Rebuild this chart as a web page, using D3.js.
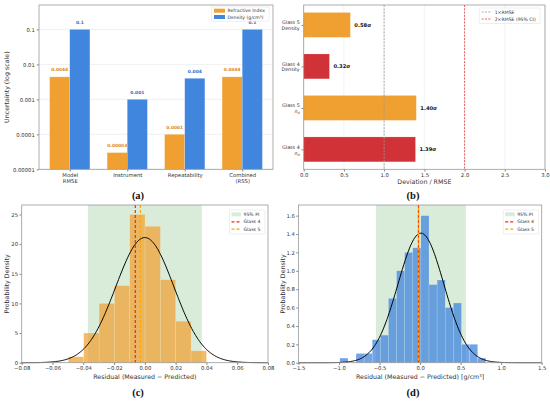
<!DOCTYPE html>
<html>
<head>
<meta charset="utf-8">
<script src="https://cdn.jsdelivr.net/npm/d3@7"></script>
<style>
  body { margin: 0; background: #fff; }
  text { font-family: "DejaVu Sans", sans-serif; }
</style>
</head>
<body>
<svg id="fig" width="550" height="401"></svg>
<script>
// ---- data: panel (a) uncertainty budget
const uncCats = [["Model", "RMSE"], ["Instrument"], ["Repeatability"], ["Combined", "(RSS)"]];
const uncRI = [0.0044, 0.00003, 0.0001, 0.0044];
const uncDen = [0.1, 0.001, 0.004, 0.1];
const uncRILabels = ["0.0044", "0.00003", "0.0001", "0.0044"];
const uncDenLabels = ["0.1", "0.001", "0.004", "0.1"];
const logTicks = [0.00001, 0.0001, 0.001, 0.01, 0.1];
const logTickLabels = ["0.00001", "0.0001", "0.001", "0.01", "0.1"];

// ---- data: panel (b) deviation / RMSE (bottom to top)
const devGlass = ["Glass 4", "Glass 5", "Glass 4", "Glass 5"];
const devProp = ["nd", "nd", "Density", "Density"];
const devVals = [1.39, 1.40, 0.32, 0.58];
const devLabels = ["1.39σ", "1.40σ", "0.32σ", "0.58σ"];
const devTicks = [0, 0.5, 1, 1.5, 2, 2.5, 3];

// ---- data: panel (c) refractive index residuals
const riEdges = [-0.0497, -0.0397, -0.0297, -0.0197, -0.0098, 0.0001, 0.0101, 0.0200, 0.0300, 0.0400];
const riDens = [1, 5, 10, 13, 25, 23, 14, 7, 2];
const riFit = { mu: 0.0, sigma: 0.0189 };
const riPI = [-0.037, 0.037];
const riGlass = [-0.0062, -0.0029];
const riTicks = [-0.08, -0.06, -0.04, -0.02, 0, 0.02, 0.04, 0.06, 0.08];
const riYTicks = [0, 5, 10, 15, 20, 25];

// ---- data: panel (d) density residuals
const denEdges = [-0.99, -0.89, -0.79, -0.69, -0.59, -0.49, -0.39, -0.29, -0.19, -0.09, 0.01, 0.11, 0.21, 0.31, 0.41, 0.51, 0.61, 0.71, 0.81];
const denDens = [0.05, 0, 0.1, 0.1, 0.25, 0.3, 0.7, 1.0, 1.2, 1.25, 1.6, 0.85, 0.9, 0.6, 0.65, 0.2, 0.2, 0.05];
const denFit = { mu: 0.01, sigma: 0.283 };
const denPI = [-0.545, 0.565];
const denGlass = [-0.02, -0.02];
const denTicks = [-1.5, -1.0, -0.5, 0, 0.5, 1.0, 1.5];
const denYTicks = [0, 0.2, 0.4, 0.6, 0.8, 1.0, 1.2, 1.4, 1.6];

const ORANGE = "#f0a030", BLUE = "#4085de", RED = "#d03238";
const svg = d3.select("#fig");

// common axis styling
function styleAxis(sel) {
  sel.select(".domain").remove();
  sel.selectAll(".tick line").attr("stroke", "#333").attr("stroke-width", 0.6);
  sel.selectAll(".tick text").attr("fill", "#333").style("font-size", "5.3px");
}
function frame(g, w, h) {
  g.append("rect").attr("width", w).attr("height", h)
    .attr("fill", "none").attr("stroke", "#999").attr("stroke-width", 0.8);
}
function caption(txt, x, y) {
  svg.append("text").attr("x", x).attr("y", y).attr("text-anchor", "middle")
    .style("font-family", "'Liberation Serif', serif").style("font-weight", "bold")
    .style("font-size", "10.5px").attr("fill", "#111").text(txt);
}
function yLabel(txt, x, yc) {
  svg.append("text").attr("transform", `translate(${x},${yc}) rotate(-90)`)
    .attr("text-anchor", "middle").attr("dy", "0.35em")
    .style("font-size", "6.3px").attr("fill", "#333").text(txt);
}
function xLabel(txt, xc, y) {
  svg.append("text").attr("x", xc).attr("y", y).attr("text-anchor", "middle")
    .attr("dy", "0.35em").style("font-size", "6.3px").attr("fill", "#333").text(txt);
}

// ================= (a) =================
const A = { l: 39, t: 5, w: 234, h: 164.3 };
const ga = svg.append("g").attr("transform", `translate(${A.l},${A.t})`);
const xa = d3.scaleLinear().domain([-0.535, 3.535]).range([0, A.w]);
const ya = d3.scaleLog().domain([1e-5, 0.5]).range([A.h, 0]);
const bw = 0.35;

ga.selectAll(".grid").data(logTicks).enter().append("line")
  .attr("x1", 0).attr("x2", A.w).attr("y1", d => ya(d)).attr("y2", d => ya(d))
  .attr("stroke", "#e6e6e6").attr("stroke-width", 0.6);

ga.selectAll(".ri").data(uncRI).enter().append("rect")
  .attr("x", (d, i) => xa(i - bw)).attr("width", xa(bw) - xa(0))
  .attr("y", d => ya(d)).attr("height", d => A.h - ya(d))
  .attr("fill", ORANGE).attr("stroke", "#fff").attr("stroke-opacity", 0.35).attr("stroke-width", 0.5);
ga.selectAll(".den").data(uncDen).enter().append("rect")
  .attr("x", (d, i) => xa(i)).attr("width", xa(bw) - xa(0))
  .attr("y", d => ya(d)).attr("height", d => A.h - ya(d))
  .attr("fill", BLUE).attr("stroke", "#fff").attr("stroke-opacity", 0.35).attr("stroke-width", 0.5);

ga.selectAll(".rilab").data(uncRI).enter().append("text")
  .attr("x", (d, i) => xa(i - bw / 2)).attr("y", d => ya(d) - 5.5)
  .attr("text-anchor", "middle").style("font-size", "4.4px").style("font-weight", "bold")
  .attr("fill", "#e08a20").text((d, i) => uncRILabels[i]);
ga.selectAll(".denlab").data(uncDen).enter().append("text")
  .attr("x", (d, i) => xa(i + bw / 2)).attr("y", d => ya(d) - 5.5)
  .attr("text-anchor", "middle").style("font-size", "4.4px").style("font-weight", "bold")
  .attr("fill", "#3070c8").text((d, i) => uncDenLabels[i]);

ga.append("g").call(d3.axisLeft(ya).tickValues(logTicks)
  .tickFormat((d, i) => logTickLabels[i]).tickSize(2.2).tickPadding(2)).call(styleAxis);
const axA = ga.append("g").attr("transform", `translate(0,${A.h})`)
  .call(d3.axisBottom(xa).tickValues([0, 1, 2, 3]).tickFormat("").tickSize(2.2)).call(styleAxis);
axA.selectAll(".tick").append("text").attr("fill", "#333").style("font-size", "5.3px")
  .attr("text-anchor", "middle")
  .each(function (d) {
    const t = d3.select(this);
    uncCats[d].forEach((s, k) => t.append("tspan").attr("x", 0).attr("y", 8 + k * 5.6).text(s));
  });
frame(ga, A.w, A.h);

// legend (a)
const la = ga.append("g").attr("transform", "translate(172.5,1.8)");
la.append("rect").attr("width", 57.5).attr("height", 14.5).attr("rx", 1)
  .attr("fill", "#fff").attr("fill-opacity", 0.85).attr("stroke", "#ddd").attr("stroke-width", 0.5);
[["Refractive Index", ORANGE], ["Density (g/cm³)", BLUE]].forEach((e, k) => {
  la.append("rect").attr("x", 2.5).attr("y", 1.9 + k * 6.3).attr("width", 11).attr("height", 4).attr("fill", e[1]);
  la.append("text").attr("x", 16).attr("y", 3.9 + k * 6.3).attr("dy", "0.35em")
    .style("font-size", "4.6px").attr("fill", "#333").text(e[0]);
});
yLabel("Uncertainty (log scale)", 7, A.t + A.h / 2);
caption("(a)", 138, 199);

// ================= (b) =================
const B = { l: 303.7, t: 5, w: 241.3, h: 164.3 };
const gb = svg.append("g").attr("transform", `translate(${B.l},${B.t})`);
const xb = d3.scaleLinear().domain([0, 3]).range([0, B.w]);
const yb = d3.scaleLinear().domain([-0.48, 3.48]).range([B.h, 0]);

gb.selectAll(".grid").data(devTicks).enter().append("line")
  .attr("x1", d => xb(d)).attr("x2", d => xb(d)).attr("y1", 0).attr("y2", B.h)
  .attr("stroke", "#ebebeb").attr("stroke-width", 0.6);

gb.selectAll(".bar").data(devVals).enter().append("rect")
  .attr("x", 0).attr("width", d => xb(d))
  .attr("y", (d, i) => yb(i + 0.3)).attr("height", yb(0) - yb(0.6))
  .attr("fill", (d, i) => devGlass[i] === "Glass 4" ? RED : ORANGE)
  .attr("stroke", "#fff").attr("stroke-opacity", 0.35).attr("stroke-width", 0.5);
gb.selectAll(".blab").data(devVals).enter().append("text")
  .attr("x", d => xb(d + 0.05)).attr("y", (d, i) => yb(i)).attr("dy", "0.35em")
  .style("font-size", "5.2px").style("font-weight", "bold").attr("fill", "#111")
  .text((d, i) => devLabels[i]);

gb.append("line").attr("x1", xb(1)).attr("x2", xb(1)).attr("y1", 0).attr("y2", B.h)
  .attr("stroke", "#999").attr("stroke-width", 0.8).attr("stroke-dasharray", "2,1.3");
gb.append("line").attr("x1", xb(2)).attr("x2", xb(2)).attr("y1", 0).attr("y2", B.h)
  .attr("stroke", "#e8383a").attr("stroke-width", 0.8).attr("stroke-dasharray", "2,1.3");

gb.append("g").attr("transform", `translate(0,${B.h})`)
  .call(d3.axisBottom(xb).tickValues(devTicks).tickFormat(d3.format(".1f")).tickSize(2.2).tickPadding(1.5))
  .call(styleAxis);
const axB = gb.append("g").call(d3.axisLeft(yb).tickValues([0, 1, 2, 3]).tickFormat("").tickSize(2.2))
  .call(styleAxis);
axB.selectAll(".tick").append("text").attr("fill", "#333").style("font-size", "4.8px")
  .attr("text-anchor", "end")
  .each(function (d) {
    const t = d3.select(this);
    t.append("tspan").attr("x", -4).attr("y", -1.2).text(devGlass[d]);
    if (devProp[d] === "nd") {
      const l2 = t.append("tspan").attr("x", -4).attr("y", 4.8);
      l2.append("tspan").style("font-style", "italic").text("n");
      l2.append("tspan").style("font-style", "italic").style("font-size", "3.4px").attr("dy", 1).text("d");
    } else {
      t.append("tspan").attr("x", -4).attr("y", 4.6).text(devProp[d]);
    }
  });
frame(gb, B.w, B.h);

const lb = gb.append("g").attr("transform", "translate(175.5,3)");
lb.append("rect").attr("width", 61).attr("height", 15.5).attr("rx", 1)
  .attr("fill", "#fff").attr("fill-opacity", 0.85).attr("stroke", "#ddd").attr("stroke-width", 0.5);
[["1×RMSE", "#999"], ["2×RMSE (95% CI)", "#e8383a"]].forEach((e, k) => {
  lb.append("line").attr("x1", 2.5).attr("x2", 12.5).attr("y1", 4 + k * 7).attr("y2", 4 + k * 7)
    .attr("stroke", e[1]).attr("stroke-width", 0.8).attr("stroke-dasharray", "2,1.3");
  lb.append("text").attr("x", 15.5).attr("y", 4 + k * 7).attr("dy", "0.35em")
    .style("font-size", "4.6px").attr("fill", "#333").text(e[0]);
});
xLabel("Deviation / RMSE", B.l + B.w / 2, 182);
caption("(b)", 413, 199);

// ================= histogram panels =================
function histPanel(P, edges, dens, fit, pi, glass, xDom, yMax, xTicks, yTicks, xFmt, yFmt, color, op) {
  const g = svg.append("g").attr("transform", `translate(${P.l},${P.t})`);
  const x = d3.scaleLinear().domain(xDom).range([0, P.w]);
  const y = d3.scaleLinear().domain([0, yMax]).range([P.h, 0]);

  g.append("rect").attr("x", x(pi[0])).attr("width", x(pi[1]) - x(pi[0]))
    .attr("y", 0).attr("height", P.h).attr("fill", "#d9ecd9");

  g.selectAll(".hb").data(dens).enter().append("rect")
    .attr("x", (d, i) => x(edges[i])).attr("width", (d, i) => x(edges[i + 1]) - x(edges[i]))
    .attr("y", d => y(d)).attr("height", d => P.h - y(d))
    .attr("fill", color).attr("fill-opacity", op)
    .attr("stroke", "#fff").attr("stroke-opacity", 0.3).attr("stroke-width", 0.5);

  const xs = d3.range(0, 301).map(k => xDom[0] + (xDom[1] - xDom[0]) * k / 300);
  const pdf = v => Math.exp(-0.5 * ((v - fit.mu) / fit.sigma) ** 2) / (fit.sigma * Math.sqrt(2 * Math.PI));
  g.append("path").datum(xs)
    .attr("d", d3.line().x(v => x(v)).y(v => y(pdf(v))))
    .attr("fill", "none").attr("stroke", "#000").attr("stroke-width", 1);

  g.append("line").attr("x1", x(glass[0])).attr("x2", x(glass[0])).attr("y1", 0).attr("y2", P.h)
    .attr("stroke", "#ee2a1c").attr("stroke-width", 1.2).attr("stroke-dasharray", "3,2");
  g.append("line").attr("x1", x(glass[1])).attr("x2", x(glass[1])).attr("y1", 0).attr("y2", P.h)
    .attr("stroke", "#ffa500").attr("stroke-width", 1.2).attr("stroke-dasharray", "3,2")
    .attr("stroke-dashoffset", glass[0] === glass[1] ? 2.5 : 0);

  g.append("g").attr("transform", `translate(0,${P.h})`)
    .call(d3.axisBottom(x).tickValues(xTicks).tickFormat(xFmt).tickSize(2.2).tickPadding(1.5))
    .call(styleAxis);
  g.append("g").call(d3.axisLeft(y).tickValues(yTicks).tickFormat(yFmt).tickSize(2.2).tickPadding(1.5))
    .call(styleAxis);
  frame(g, P.w, P.h);

  const lg = g.append("g").attr("transform", `translate(${P.w - 38.5},5)`);
  lg.append("rect").attr("width", 35.5).attr("height", 24).attr("rx", 1)
    .attr("fill", "#fff").attr("fill-opacity", 0.85).attr("stroke", "#ddd").attr("stroke-width", 0.5);
  lg.append("rect").attr("x", 2).attr("y", 2.3).attr("width", 9.5).attr("height", 4).attr("fill", "#d9ecd9");
  [["Glass 4", "#ee2a1c"], ["Glass 5", "#ffa500"]].forEach((e, k) => {
    lg.append("line").attr("x1", 2).attr("x2", 11.5).attr("y1", 11.8 + k * 7.4).attr("y2", 11.8 + k * 7.4)
      .attr("stroke", e[1]).attr("stroke-width", 1.2).attr("stroke-dasharray", "3,2");
  });
  ["95% PI", "Glass 4", "Glass 5"].forEach((s, k) => {
    lg.append("text").attr("x", 14).attr("y", 4.3 + k * 7.5).attr("dy", "0.35em")
      .style("font-size", "4.6px").attr("fill", "#333").text(s);
  });
}

const C = { l: 21.7, t: 205, w: 246.3, h: 157.7 };
histPanel(C, riEdges, riDens, riFit, riPI, riGlass, [-0.08, 0.08], 26.6, riTicks, riYTicks,
  d => d === 0 ? "0.00" : d3.format(".2f")(d).replace("-", "−"), d3.format("d"), ORANGE, 0.72);
yLabel("Probability Density", 7, C.t + C.h / 2);
xLabel("Residual (Measured − Predicted)", C.l + C.w / 2, 377);
caption("(c)", 138, 396);

const D = { l: 298.5, t: 205, w: 243.2, h: 157.7 };
histPanel(D, denEdges, denDens, denFit, denPI, denGlass, [-1.5, 1.5], 1.716, denTicks, denYTicks,
  d => d3.format(".1f")(d).replace("-", "−"), d3.format(".1f"), BLUE, 0.75);
yLabel("Probability Density", 282.5, D.t + D.h / 2);
xLabel("Residual (Measured − Predicted) [g/cm³]", D.l + D.w / 2, 377);
caption("(d)", 413, 396);
</script>
</body>
</html>
